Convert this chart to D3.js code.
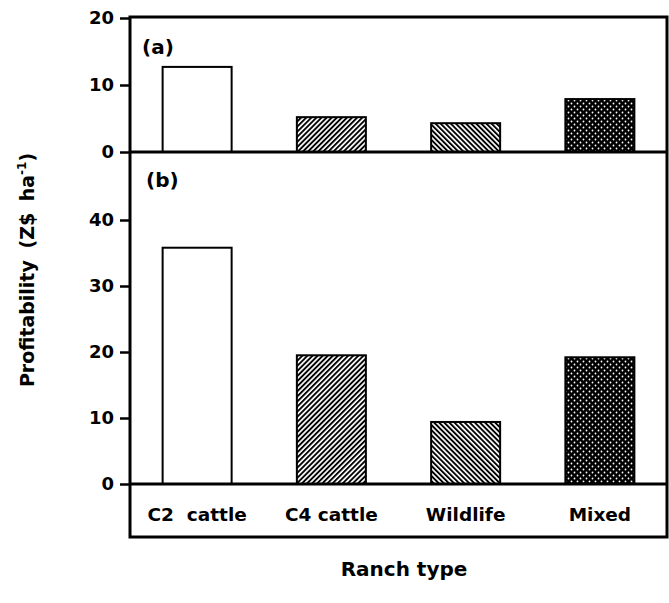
<!DOCTYPE html>
<html>
<head>
<meta charset="utf-8">
<script src="https://cdn.jsdelivr.net/npm/d3@7"></script>
<style>
  body { margin: 0; background: #fff; }
  text { font-family: 'DejaVu Sans', sans-serif; font-weight: bold; }
</style>
</head>
<body>
<div class="Canvas"></div>
<script>
const categories = ['C2  cattle', 'C4 cattle', 'Wildlife', 'Mixed'];
const fills = ['white', 'url(#hatchUp)', 'url(#hatchDown)', 'url(#dots)'];
const profitA = [12.7, 5.2, 4.3, 7.9];
const profitB = [35.8, 19.5, 9.4, 19.2];
const ticksA = [0, 10, 20];
const ticksB = [0, 10, 20, 30, 40];

const width = 669;
const height = 603;
const frameLeft = 130, frameRight = 667, frameTop = 17, frameBottom = 537;
const midLine = 152, baseB = 484;

const svg = d3.select('.Canvas').append('svg')
  .attr('width', width)
  .attr('height', height);

const defs = svg.append('defs');
const hatch = (id, angle) => {
  const p = defs.append('pattern')
    .attr('id', id)
    .attr('patternUnits', 'userSpaceOnUse')
    .attr('width', 3.6)
    .attr('height', 3.6)
    .attr('patternTransform', `rotate(${angle})`);
  p.append('rect').attr('width', 3.6).attr('height', 3.6).attr('fill', 'white');
  p.append('rect').attr('width', 1.9).attr('height', 3.6).attr('fill', 'black');
};
hatch('hatchUp', 45);
hatch('hatchDown', -45);

const dots = defs.append('pattern')
  .attr('id', 'dots')
  .attr('patternUnits', 'userSpaceOnUse')
  .attr('width', 6)
  .attr('height', 6);
dots.append('rect').attr('width', 6).attr('height', 6).attr('fill', 'black');
dots.append('circle').attr('cx', 1.5).attr('cy', 1.5).attr('r', 0.9).attr('fill', 'white');
dots.append('circle').attr('cx', 4.5).attr('cy', 4.5).attr('r', 0.9).attr('fill', 'white');

const x = d3.scaleBand()
  .domain(categories)
  .range([frameLeft, frameRight])
  .paddingInner(0.486)
  .paddingOuter(0.243);

const yA = d3.scaleLinear().domain([0, 20]).range([midLine, 18]);
const yB = d3.scaleLinear().domain([0, 50]).range([baseB, 154]);

// bars
const drawBars = (values, y) => {
  svg.append('g')
    .selectAll('rect')
    .data(values)
    .enter()
    .append('rect')
    .attr('x', (d, i) => x(categories[i]))
    .attr('y', (d) => y(d))
    .attr('width', x.bandwidth())
    .attr('height', (d) => y(0) - y(d))
    .attr('fill', (d, i) => fills[i])
    .attr('stroke', 'black')
    .attr('stroke-width', 2);
};
drawBars(profitA, yA);
drawBars(profitB, yB);

// axes
const drawAxis = (y, ticks) => {
  const g = svg.append('g')
    .attr('transform', `translate(${frameLeft},0)`)
    .call(d3.axisLeft(y).tickValues(ticks).tickSize(10).tickPadding(6));
  g.select('.domain').remove();
  g.selectAll('.tick line').attr('stroke', 'black').attr('stroke-width', 2.5);
  g.selectAll('.tick text')
    .attr('font-size', '18px')
    .attr('font-family', "'DejaVu Sans', sans-serif")
    .attr('font-weight', 'bold')
    .attr('fill', 'black');
};
drawAxis(yA, ticksA);
drawAxis(yB, ticksB);

// frame
svg.append('rect')
  .attr('x', frameLeft)
  .attr('y', frameTop)
  .attr('width', frameRight - frameLeft)
  .attr('height', frameBottom - frameTop)
  .attr('fill', 'none')
  .attr('stroke', 'black')
  .attr('stroke-width', 3);
[midLine, baseB].forEach((yy) => {
  svg.append('line')
    .attr('x1', frameLeft).attr('x2', frameRight)
    .attr('y1', yy).attr('y2', yy)
    .attr('stroke', 'black')
    .attr('stroke-width', 3);
});

// category labels
svg.append('g')
  .selectAll('text')
  .data(categories)
  .enter()
  .append('text')
  .attr('x', (d) => x(d) + x.bandwidth() / 2)
  .attr('y', 521)
  .attr('text-anchor', 'middle')
  .attr('font-size', '18.5px')
  .style('white-space', 'pre')
  .text((d) => d);

// panel labels
svg.append('text').attr('x', 142).attr('y', 54).attr('font-size', '20px').text('(a)');
svg.append('text').attr('x', 146).attr('y', 187).attr('font-size', '20px').text('(b)');

// axis titles
const yTitle = svg.append('text')
  .attr('transform', 'translate(34,270) rotate(-90)')
  .attr('text-anchor', 'middle')
  .attr('font-size', '19px')
  .attr('word-spacing', '5px');
yTitle.append('tspan').text('Profitability (Z$ ha');
yTitle.append('tspan').attr('font-size', '12px').attr('dy', -8).text('-1');
yTitle.append('tspan').attr('dy', 8).text(')');

svg.append('text')
  .attr('x', 404)
  .attr('y', 576)
  .attr('text-anchor', 'middle')
  .attr('font-size', '20px')
  .text('Ranch type');
</script>
</body>
</html>
